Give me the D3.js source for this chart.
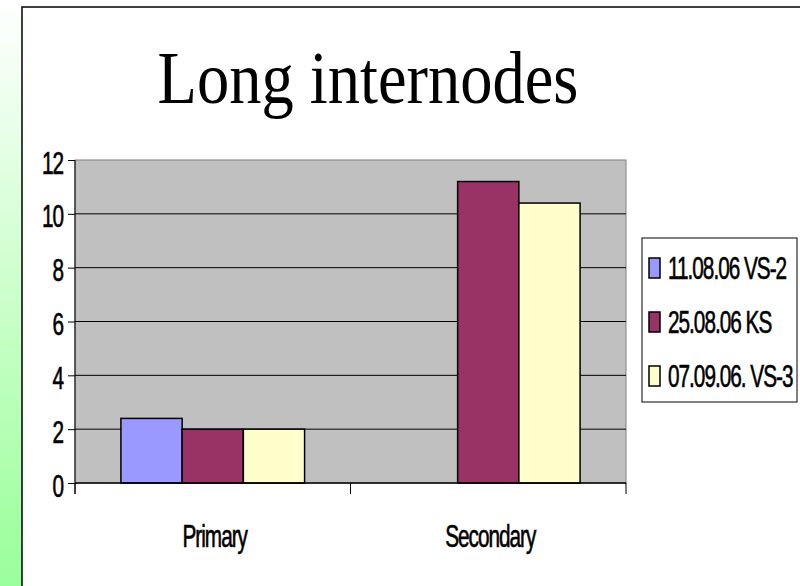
<!DOCTYPE html>
<html>
<head>
<meta charset="utf-8">
<script src="https://cdn.jsdelivr.net/npm/d3@7"></script>
<style>
  body { margin: 0; background: #fff; }
  svg { display: block; }
  .lbl { font-family: "Liberation Sans", Arial, sans-serif; font-size: 31px; letter-spacing: -1.5px; fill: #000; stroke: #000; stroke-width: 0.6px; }
</style>
</head>
<body>
<div id="chart"></div>
<script>
const categories = ['Primary', 'Secondary']
const seriesNames = ['11.08.06 VS-2', '25.08.06 KS', '07.09.06. VS-3']
const seriesColors = ['#9999ff', '#993366', '#ffffcc']
const vs2 = [2.4, null]
const ks = [2.0, 11.2]
const vs3 = [2.0, 10.4]
const yTicks = [0, 2, 4, 6, 8, 10, 12]
const title = 'Long internodes'

const width = 800
const height = 586
const margin = { top: 160, right: 174, bottom: 103, left: 75 }
const plotW = width - margin.left - margin.right
const plotH = height - margin.top - margin.bottom
const squeeze = 0.67

const values = [vs2, ks, vs3]

const svg = d3.select('#chart').append('svg').attr('width', width).attr('height', height)

// narrow text, like the old rendering
function label(sel, x, y, txt, anchor) {
  sel.append('text').attr('class', 'lbl')
    .attr('text-anchor', anchor || 'start')
    .attr('transform', `translate(${x}, ${y}) scale(${squeeze}, 1)`)
    .text(txt)
}

// green strip on the left
const grad = svg.append('defs').append('linearGradient').attr('id', 'strip').attr('x1', 0).attr('y1', 0).attr('x2', 0).attr('y2', 1)
grad.append('stop').attr('offset', '0%').attr('stop-color', '#ffffff')
grad.append('stop').attr('offset', '8%').attr('stop-color', '#f6fff6')
grad.append('stop').attr('offset', '100%').attr('stop-color', '#99ff99')
svg.append('rect').attr('x', 0).attr('y', 0).attr('width', 22).attr('height', height).attr('fill', 'url(#strip)')

// outer frame
svg.append('rect').attr('x', 22).attr('y', 7).attr('width', width).attr('height', height)
  .attr('fill', '#fff').attr('stroke', '#000').attr('stroke-width', 1.5)

svg.append('text').attr('text-anchor', 'middle')
  .attr('transform', 'translate(368, 103) scale(0.86, 1)')
  .attr('font-family', '"Liberation Serif", "Times New Roman", serif').attr('font-size', 75)
  .text(title)

const g = svg.append('g').attr('transform', `translate(${margin.left}, ${margin.top})`)

const x0 = d3.scaleBand().domain(categories).range([0, plotW]).padding(0)
const x1 = d3.scaleBand().domain(seriesNames).range([0, x0.bandwidth()]).paddingInner(0).paddingOuter(0.75)
const y = d3.scaleLinear().domain([0, 12]).range([plotH, 0])

g.append('rect').attr('width', plotW).attr('height', plotH).attr('fill', '#c0c0c0').attr('stroke', '#808080')

g.selectAll('.grid').data(yTicks.filter(d => d > 0 && d < 12)).enter().append('line')
  .attr('x1', 0).attr('x2', plotW).attr('y1', d => y(d)).attr('y2', d => y(d))
  .attr('stroke', '#000').attr('stroke-width', 1)

const bars = []
categories.forEach((c, ci) => {
  seriesNames.forEach((s, si) => {
    if (values[si][ci] != null) bars.push({ cat: c, series: s, color: seriesColors[si], value: values[si][ci] })
  })
})

g.selectAll('.bar').data(bars).enter().append('rect')
  .attr('class', 'bar')
  .attr('x', d => x0(d.cat) + x1(d.series))
  .attr('width', x1.bandwidth())
  .attr('y', d => y(d.value))
  .attr('height', d => plotH - y(d.value))
  .attr('fill', d => d.color)
  .attr('stroke', '#000').attr('stroke-width', 1.5)

// axes
const yAxis = d3.axisLeft(y).tickValues(yTicks).tickSize(7).tickFormat('')
const yAxisGroup = g.append('g').call(yAxis)
yAxisGroup.select('.domain').remove()
yAxisGroup.selectAll('.tick text').remove()
yAxisGroup.selectAll('.tick').each(function (d) { label(d3.select(this), -12, 13, d, 'end') })
yAxisGroup.append('line').attr('x1', 0).attr('x2', 0).attr('y1', 0).attr('y2', plotH + 11).attr('stroke', '#000')

const xAxisGroup = g.append('g').attr('transform', `translate(0, ${plotH})`)
xAxisGroup.append('line').attr('x1', 0).attr('x2', plotW).attr('stroke', '#000').attr('stroke-width', 1.5)
const xTickPos = [0].concat(categories.map(c => x0(c) + x0.bandwidth()))
xAxisGroup.selectAll('.xtick').data(xTickPos).enter().append('line')
  .attr('x1', d => d).attr('x2', d => d).attr('y1', 0).attr('y2', 11).attr('stroke', '#000')
categories.forEach(c => label(xAxisGroup, x0(c) + x0.bandwidth() / 2 + 2, 64, c, 'middle'))

// legend
const legend = svg.append('g').attr('transform', 'translate(642, 238)')
legend.append('rect').attr('width', 155).attr('height', 164).attr('fill', '#fff').attr('stroke', '#000')
const items = legend.selectAll('.item').data(seriesNames).enter().append('g')
  .attr('transform', (d, i) => `translate(0, ${30 + i * 54})`)
items.append('rect').attr('x', 7).attr('y', -10).attr('width', 11).attr('height', 20)
  .attr('fill', (d, i) => seriesColors[i]).attr('stroke', '#000').attr('stroke-width', 1.5)
items.each(function (d) { label(d3.select(this), 26, 11, d) })
</script>
</body>
</html>
